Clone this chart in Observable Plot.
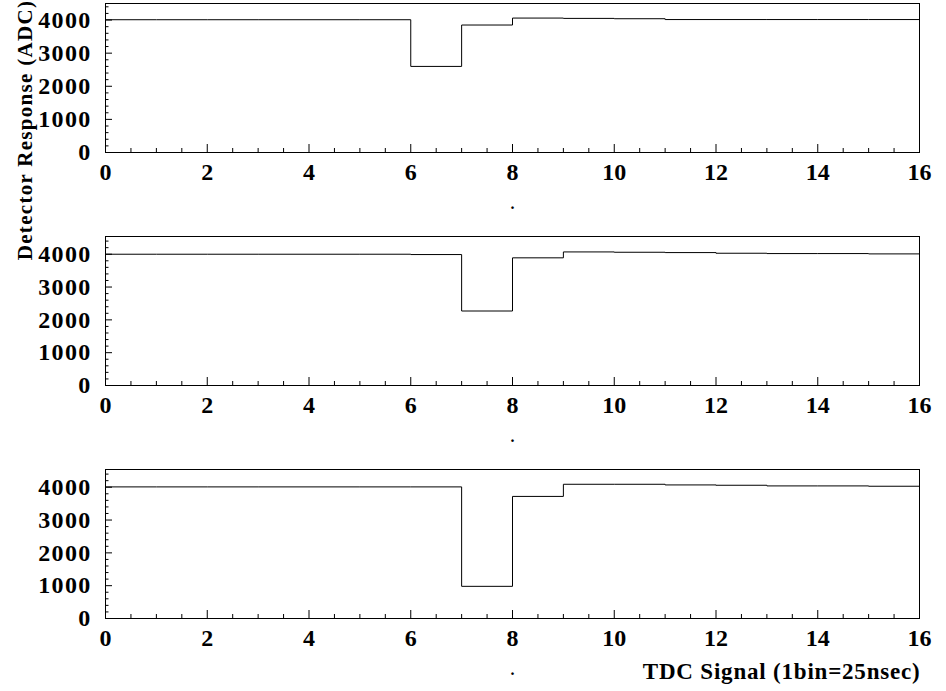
<!DOCTYPE html>
<html>
<head>
<meta charset="utf-8">
<script src="https://cdn.jsdelivr.net/npm/d3@7"></script>
<script src="https://cdn.jsdelivr.net/npm/@observablehq/plot@0.6"></script>
<style>
  html, body { margin: 0; padding: 0; background: #fff; }
  #chart { position: relative; width: 946px; height: 691px; overflow: hidden; }
  #chart svg { display: block; overflow: visible; }
  .hist g[aria-label="y-axis tick label"] text { letter-spacing: 1.3px; }
  .hist g.xtitle text { letter-spacing: 0.8px; }
  #ytitle {
    position: absolute; left: 15px; top: 130px;
    font-family: "Liberation Serif", "Times New Roman", serif;
    font-weight: bold; font-size: 21px; letter-spacing: 1.3px;
    white-space: nowrap; line-height: 1;
    transform: translate(-50%, -50%) rotate(-90deg);
    transform-origin: center;
    margin-left: 10px;
  }
</style>
</head>
<body>
<div id="chart"></div>
<script>
// Detector response per TDC bin (ADC counts), one array per channel
const channelA = [4010, 4010, 4010, 4010, 4010, 4010, 2600, 3850, 4060, 4050, 4040, 4015, 4015, 4015, 4015, 4015];
const channelB = [4000, 4000, 4000, 4000, 4000, 4000, 3990, 2270, 3890, 4070, 4060, 4050, 4030, 4020, 4020, 4010];
const channelC = [4010, 4010, 4010, 4010, 4010, 4010, 4010, 980, 3720, 4090, 4090, 4070, 4060, 4040, 4040, 4030];

// Upper edge of each panel's y range
const yMax = [4500, 4540, 4540];

// Axis ticks and titles
const xTicks = [0, 2, 4, 6, 8, 10, 12, 14, 16];
const yTicks = [0, 1000, 2000, 3000, 4000];
const panelTitle = ".";
const xTitle = "TDC Signal (1bin=25nsec)";
const yTitle = "Detector Response (ADC)";

const font = "'Liberation Serif', 'Times New Roman', serif";
const width = 946;
const marginLeft = 105, marginRight = 27, marginTop = 3;
const frameH = 149;
const frameW = width - marginLeft - marginRight;

const xMinor = d3.range(0, 16.001, 0.5).filter(d => !xTicks.includes(d));

function panel(values, ymax, last) {
  const height = last ? 225 : 233;
  const marginBottom = height - marginTop - frameH;
  // bin edges 0..16: each value holds from its own edge to the next one
  const steps = values.map((v, i) => ({t: i, v})).concat({t: values.length, v: values[values.length - 1]});
  const yMinor = d3.range(0, ymax, 200).filter(d => !yTicks.includes(d));
  const marks = [
    Plot.frame({stroke: "#000", strokeWidth: 1}),
    Plot.line(steps, {x: "t", y: "v", curve: "step-after", stroke: "#000", strokeWidth: 1}),
    Plot.tickX(xTicks, {x: d => d, insetTop: frameH - 8, stroke: "#000"}),
    Plot.tickX(xMinor, {x: d => d, insetTop: frameH - 4, stroke: "#000"}),
    Plot.tickY(yTicks, {y: d => d, insetRight: frameW - 7, stroke: "#000"}),
    Plot.tickY(yMinor, {y: d => d, insetRight: frameW - 3.5, stroke: "#000"}),
    Plot.axisX({ticks: xTicks, tickSize: 0, tickPadding: 10, fontSize: 24, fontWeight: "bold", label: null, tickFormat: "d"}),
    Plot.axisY({ticks: yTicks, tickSize: 0, tickPadding: 14, fontSize: 24, fontWeight: "bold", label: null, tickFormat: "d"}),
    Plot.text([panelTitle], {text: d => d, frameAnchor: "bottom", dy: 56, lineAnchor: "bottom", fontSize: 16, fontWeight: "bold"})
  ];
  if (last) {
    marks.push(Plot.text([xTitle], {text: d => d, frameAnchor: "bottom-right", textAnchor: "end", lineAnchor: "bottom",
      dx: 1, dy: 60, fontSize: 23, fontWeight: "bold", className: "xtitle"}));
  }
  return Plot.plot({
    width, height, marginLeft, marginRight, marginTop, marginBottom,
    className: "hist",
    style: {fontFamily: font, fontWeight: "bold", fontSize: "24px", color: "#000", background: "#fff", overflow: "visible"},
    x: {domain: [0, 16], label: null},
    y: {domain: [0, ymax], label: null},
    marks
  });
}

const chart = document.getElementById("chart");
chart.append(panel(channelA, yMax[0], false));
chart.append(panel(channelB, yMax[1], false));
chart.append(panel(channelC, yMax[2], true));

const yt = document.createElement("div");
yt.id = "ytitle";
yt.textContent = yTitle;
chart.append(yt);
</script>
</body>
</html>
